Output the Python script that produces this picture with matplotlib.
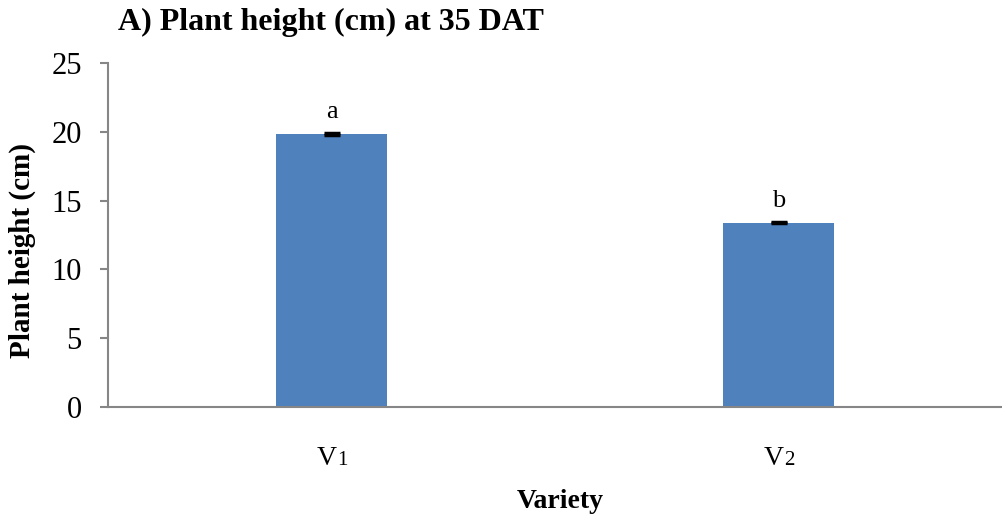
import matplotlib.pyplot as plt
import matplotlib.transforms as mtransforms

# plant height at 35 DAT for the two varieties
varieties = ["V", "V"]
variety_nums = ["1", "2"]
heights = [19.85, 13.4]
errors = [0.07, 0.06]
letters = ["a", "b"]

plt.rcParams['font.family'] = ['Liberation Serif', 'DejaVu Serif']

fig = plt.figure(figsize=(10.03, 5.19), dpi=100)
ax = fig.add_axes([0.1077, 0.2158, 0.8913, 0.6628])

x = list(range(len(varieties)))
ax.bar(x, heights, width=0.25, color="#4F81BD", zorder=2)
ax.errorbar(x, heights, yerr=errors, fmt="none", ecolor="black",
            elinewidth=2, capsize=6, capthick=2.5, zorder=3)

# significance letters above each bar
for i, (h, lab) in enumerate(zip(heights, letters)):
    ax.text(i, h + 1.12, lab, ha="center", va="baseline", fontsize=19)

ax.set_xlim(-0.5, 1.5)
ax.set_ylim(0, 25)
ax.set_yticks([0, 5, 10, 15, 20, 25])
ax.set_xticks(x)
ax.set_xticklabels([])
ax.tick_params(axis="y", labelsize=22, color="#868686", length=6,
               width=1.5, pad=13)
ax.tick_params(axis="x", length=0)

# category labels: "V" with a small digit sitting on the baseline
trans = mtransforms.blended_transform_factory(ax.transData, fig.transFigure)
base_y = 1 - 465 / 519
for i, (v, n) in enumerate(zip(varieties, variety_nums)):
    ax.text(i + 0.012, base_y, v, transform=trans, ha="right", va="baseline",
            fontsize=20)
    ax.text(i + 0.012, base_y, n, transform=trans, ha="left", va="baseline",
            fontsize=15)

for side in ["top", "right"]:
    ax.spines[side].set_visible(False)
for side in ["left", "bottom"]:
    ax.spines[side].set_color("#868686")
    ax.spines[side].set_linewidth(1.5)

ax.set_ylabel("Plant height (cm)", fontsize=21, fontweight="bold",
              va="center")
ax.yaxis.set_label_coords(-0.096, 0.456)
ax.set_xlabel("Variety", fontsize=20, fontweight="bold", va="center")
ax.xaxis.set_label_coords(0.5056, -0.276)
fig.text(0.118, 1 - 22 / 519, "A) Plant height (cm) at 35 DAT", fontsize=23,
         fontweight="bold", va="center", ha="left")

fig.savefig("out.png", dpi=100)
